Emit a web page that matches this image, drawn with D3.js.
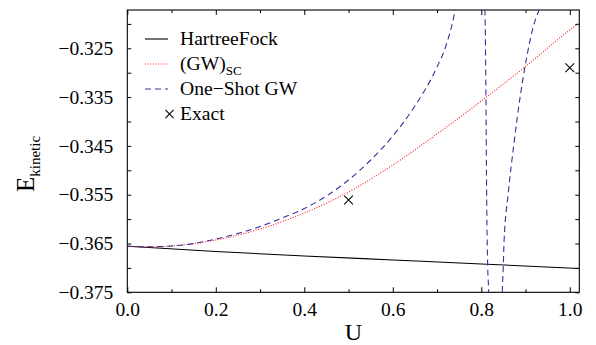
<!DOCTYPE html>
<html>
<head>
<meta charset="utf-8">
<script src="https://cdn.jsdelivr.net/npm/d3@7/dist/d3.min.js"></script>
<style>
  html, body { margin: 0; padding: 0; background: #fff; }
  svg { display: block; font-family: "Liberation Serif", "Times New Roman", serif; }
</style>
</head>
<body>
<svg id="chart" width="596" height="345"></svg>
<script>
// ── Data ───────────────────────────────────────────────────────────────

// Hartree-Fock kinetic energy
const hfU = [0, 0.2, 0.4, 0.6, 0.8, 1.02];
const hfE = [-0.36557, -0.36664, -0.36756, -0.36838, -0.36920, -0.37012];

// self-consistent GW
const gwscU = [0, 0.05, 0.1, 0.2, 0.3, 0.4, 0.5, 0.6, 0.7, 0.8, 0.9, 1.0, 1.02];
const gwscE = [-0.36557, -0.36572, -0.36551, -0.36428, -0.36203, -0.35875, -0.35445,
               -0.34891, -0.34256, -0.33580, -0.32873, -0.32125, -0.31992];

// one-shot GW, three branches (poles between them)
const osU1 = [0, 0.05, 0.1, 0.15, 0.2, 0.25, 0.3, 0.35, 0.4, 0.45, 0.5, 0.55, 0.6, 0.65, 0.7, 0.72, 0.74, 0.745];
const osE1 = [-0.36557, -0.36566, -0.36551, -0.36500, -0.36408, -0.36295, -0.36152, -0.35977,
              -0.35783, -0.35527, -0.35199, -0.34789, -0.34297, -0.33682, -0.32883, -0.32453,
              -0.31756, -0.3150];
const osU2 = [0.8075, 0.8083, 0.8106, 0.8122, 0.8145, 0.8167, 0.8172];
const osE2 = [-0.3150, -0.31715, -0.33559, -0.35609, -0.36975, -0.37500, -0.3770];
const osU3 = [0.8470, 0.8475, 0.8497, 0.8513, 0.8610, 0.8739, 0.8890, 0.8988, 0.9175, 0.9304, 0.935];
const osE3 = [-0.3770, -0.37500, -0.36975, -0.36496, -0.35471, -0.34447, -0.33422, -0.32877,
              -0.32057, -0.31715, -0.3160];

// exact results
const exactU = [0.5, 1.0];
const exactE = [-0.3561, -0.3290];

// axis ticks
const xMajor = [0, 0.2, 0.4, 0.6, 0.8, 1.0];
const xMinor = [0.1, 0.3, 0.5, 0.7, 0.9];
const yMajor = [-0.375, -0.365, -0.355, -0.345, -0.335, -0.325];
const yMinor = [-0.370, -0.360, -0.350, -0.340, -0.330, -0.320];

const legendLabels = ['HartreeFock', '(GW)', 'One\u2212Shot GW', 'Exact'];

// ── Layout ────────────────────────────────────────────────────────────

const M = { left: 127.3, right: 579.3, top: 10, bottom: 292.3 };
const SERIF = '"Liberation Serif", "Times New Roman", serif';
const BLUE = '#3a2f9a';
const RED = '#ff1a1a';

const svg = d3.select('#chart');

const x = d3.scaleLinear().domain([0, 1.0215]).range([M.left, M.right]);
const y = d3.scaleLinear().domain([-0.375, -0.31715]).range([M.bottom, M.top]);

svg.append('defs').append('clipPath')
  .attr('id', 'plot-clip')
  .append('rect')
  .attr('x', M.left).attr('y', M.top)
  .attr('width', M.right - M.left).attr('height', M.bottom - M.top);

// ── Axes (ticks point inward, all four sides) ─────────────────────────

function styleAxis(g) {
  g.attr('font-family', null);
  g.select('.domain').remove();
  g.selectAll('line').attr('stroke', '#000').attr('stroke-width', 1);
  g.selectAll('text').attr('fill', '#000')
    .style('font-size', '19.5px')
    .style('font-family', SERIF);
}

const axBottom = svg.append('g').attr('transform', `translate(0,${M.bottom})`);
axBottom.append('g').call(d3.axisBottom(x).tickValues(xMajor).tickSize(-5).tickSizeOuter(0)
  .tickPadding(10).tickFormat(d3.format('.1f'))).call(styleAxis);
axBottom.append('g').call(d3.axisBottom(x).tickValues(xMinor).tickSize(-3).tickSizeOuter(0)
  .tickFormat('')).call(styleAxis);

const axTop = svg.append('g').attr('transform', `translate(0,${M.top})`);
axTop.append('g').call(d3.axisTop(x).tickValues(xMajor).tickSize(-5).tickSizeOuter(0).tickFormat('')).call(styleAxis);
axTop.append('g').call(d3.axisTop(x).tickValues(xMinor).tickSize(-3).tickSizeOuter(0).tickFormat('')).call(styleAxis);

const axLeft = svg.append('g').attr('transform', `translate(${M.left},0)`);
axLeft.append('g').call(d3.axisLeft(y).tickValues(yMajor).tickSize(-4).tickSizeOuter(0)
  .tickPadding(14).tickFormat(d3.format('.3f'))).call(styleAxis);
axLeft.append('g').call(d3.axisLeft(y).tickValues(yMinor).tickSize(-4).tickSizeOuter(0).tickFormat('')).call(styleAxis);

const axRight = svg.append('g').attr('transform', `translate(${M.right},0)`);
axRight.append('g').call(d3.axisRight(y).tickValues(yMajor).tickSize(-4).tickSizeOuter(0).tickFormat('')).call(styleAxis);
axRight.append('g').call(d3.axisRight(y).tickValues(yMinor).tickSize(-4).tickSizeOuter(0).tickFormat('')).call(styleAxis);

// frame
svg.append('rect')
  .attr('x', M.left).attr('y', M.top)
  .attr('width', M.right - M.left).attr('height', M.bottom - M.top)
  .attr('fill', 'none').attr('stroke', '#000').attr('stroke-width', 1.1);

// axis titles
svg.append('text')
  .attr('x', (M.left + M.right) / 2).attr('y', 340)
  .attr('text-anchor', 'middle').style('font-size', '24px').style('font-family', SERIF)
  .text('U');

const ylab = svg.append('text')
  .attr('transform', 'translate(33.5,192) rotate(-90)')
  .style('font-size', '25px').style('font-family', SERIF);
ylab.append('tspan').text('E');
ylab.append('tspan').style('font-size', '15px').attr('dy', 6.5).text('kinetic');

// ── Curves ────────────────────────────────────────────────────────────

const plot = svg.append('g').attr('clip-path', 'url(#plot-clip)');

const zip = (us, es) => us.map((u, i) => [u, es[i]]);
const line = d3.line().x(d => x(d[0])).y(d => y(d[1])).curve(d3.curveMonotoneX);

plot.append('path').datum(zip(hfU, hfE))
  .attr('d', line).attr('fill', 'none')
  .attr('stroke', '#000').attr('stroke-width', 1.1);

plot.append('path').datum(zip(gwscU, gwscE))
  .attr('d', line).attr('fill', 'none')
  .attr('stroke', RED).attr('stroke-width', 1.1).attr('stroke-dasharray', '1,1.6');

[zip(osU1, osE1), zip(osU2, osE2), zip(osU3, osE3)].forEach(branch => {
  plot.append('path').datum(branch)
    .attr('d', line).attr('fill', 'none')
    .attr('stroke', BLUE).attr('stroke-width', 1.1).attr('stroke-dasharray', '6,4');
});

plot.selectAll('.exact')
  .data(zip(exactU, exactE))
  .join('path')
  .attr('class', 'exact')
  .attr('transform', d => `translate(${x(d[0])},${y(d[1])})`)
  .attr('d', d3.symbol().type(d3.symbolTimes).size(52))
  .attr('fill', 'none').attr('stroke', '#000').attr('stroke-width', 1.1);

// ── Legend ────────────────────────────────────────────────────────────

const lg = svg.append('g');
const rowY = i => 45 + i * 25;

lg.append('line').attr('x1', 145).attr('x2', 168).attr('y1', rowY(0) - 6).attr('y2', rowY(0) - 6)
  .attr('stroke', '#000').attr('stroke-width', 1.1);
lg.append('line').attr('x1', 145).attr('x2', 168).attr('y1', rowY(1) - 6).attr('y2', rowY(1) - 6)
  .attr('stroke', RED).attr('stroke-width', 1.1).attr('stroke-dasharray', '1,1.6');
lg.append('line').attr('x1', 145).attr('x2', 168).attr('y1', rowY(2) - 6).attr('y2', rowY(2) - 6)
  .attr('stroke', BLUE).attr('stroke-width', 1.1).attr('stroke-dasharray', '6,4');
lg.append('path').attr('transform', `translate(169.5,${rowY(3) - 6})`)
  .attr('d', d3.symbol().type(d3.symbolTimes).size(44))
  .attr('fill', 'none').attr('stroke', '#000').attr('stroke-width', 1.1);

legendLabels.forEach((lab, i) => {
  const t = lg.append('text').attr('x', 180).attr('y', rowY(i))
    .style('font-size', '19.6px').style('font-family', SERIF).text(lab);
  if (i === 1) t.append('tspan').style('font-size', '13px').attr('dy', 5).text('SC');
});
</script>
</body>
</html>
